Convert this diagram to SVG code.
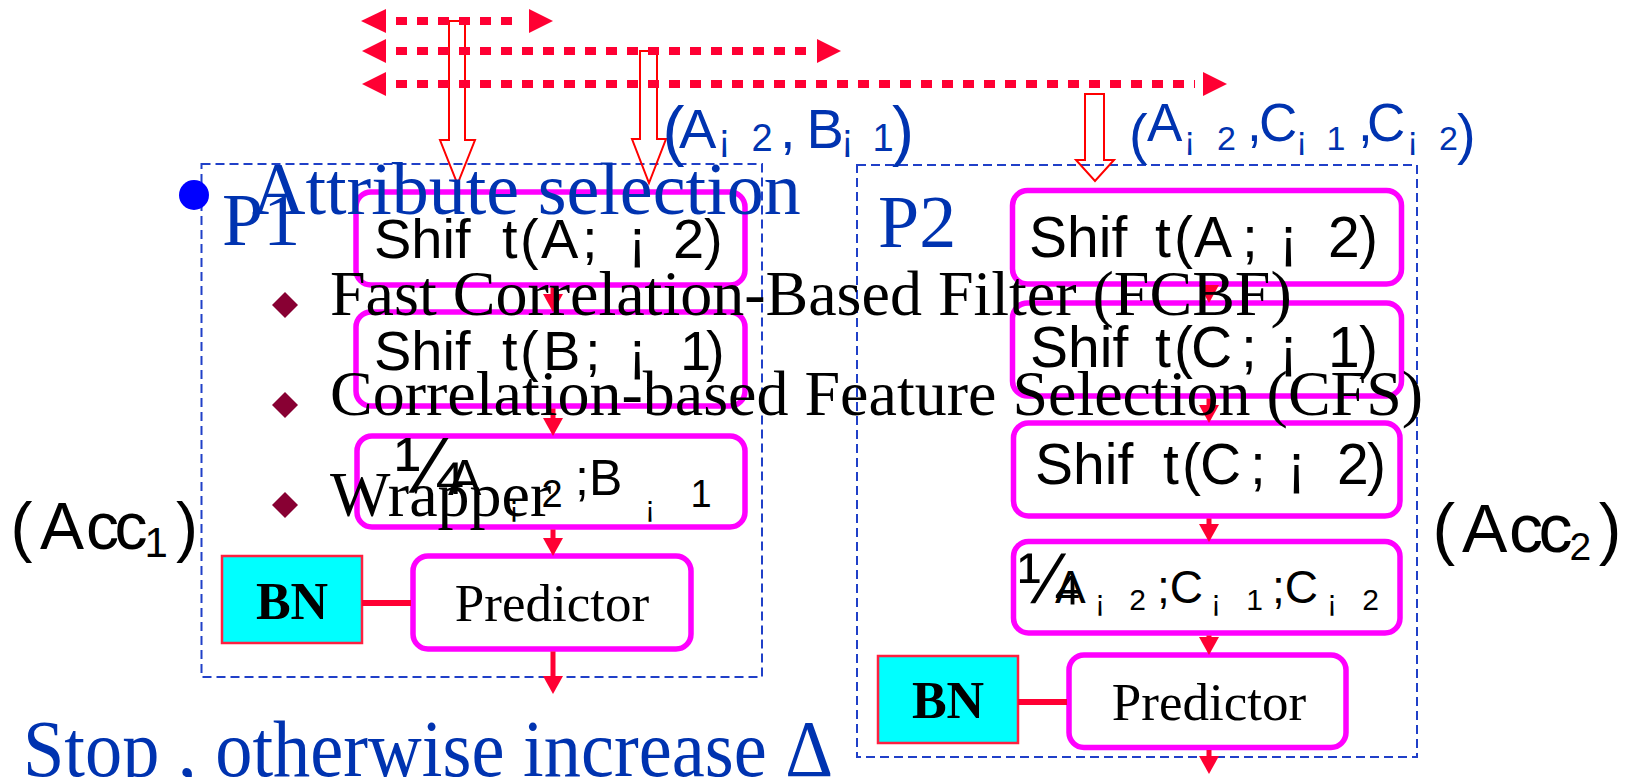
<svg xmlns="http://www.w3.org/2000/svg" width="1627" height="777" viewBox="0 0 1627 777">
<style>
.bg{fill:#fff}
.region{fill:none;stroke:#2040c8;stroke-width:2;stroke-dasharray:9 5}
.mag{fill:#fff;stroke:#ff00ff;stroke-width:5.5}
.bn{fill:#00ffff;stroke:#ff2040;stroke-width:2.5}
.ser{font-family:"Liberation Serif","Times New Roman",serif}
.sans{font-family:"Liberation Sans",Arial,sans-serif}
.blue{fill:#0033b0}
.blk{fill:#000}
.dot{fill:none;stroke:#ff0033;stroke-width:8;stroke-dasharray:11 10}
.head{fill:#ff0033}
.hollow{fill:none;stroke:#ff0000;stroke-width:2}
.flow{stroke:#ff0033;stroke-width:5;fill:none}
.link{stroke:#ff0033;stroke-width:6}
.diam{fill:#880033}
.shift{font-size:56px}
.shift2{font-size:57px}
</style>
<defs>
<marker id="ah" markerUnits="userSpaceOnUse" markerWidth="18" markerHeight="20" refX="8" refY="10" orient="auto">
<path d="M0,0 L18,10 L0,20 z" fill="#ff0033"/>
</marker>
</defs>
<rect class="bg" x="0" y="0" width="1627" height="777"/>

<g id="region-p1">
<rect class="region" x="201.5" y="164" width="560.5" height="513"/>
<text class="ser blue" x="222" y="245" font-size="74">P1</text>
</g>
<g id="region-p2">
<rect class="region" x="857" y="165" width="560" height="592"/>
<text class="ser blue" x="878" y="247" font-size="74">P2</text>
</g>

<g id="p1-shift-a">
<rect class="mag" x="356" y="192" width="389" height="93" rx="15"/>
<text class="sans blk shift" y="258" x="374 411.3 442.4 454.9 477 502 520 541 582 628 652 673 704">Shif t(A;¡ 2)</text>
</g>
<g id="p1-shift-b">
<rect class="mag" x="356" y="312" width="389" height="94" rx="15"/>
<text class="sans blk shift" y="370" x="374 411.3 442.4 454.9 477 502 520 543 585 628 655 680 706">Shif t(B;¡ 1)</text>
</g>
<g id="p1-tuple">
<rect class="mag" x="357" y="436" width="388" height="91" rx="15"/>
<text class="sans blk"><tspan x="395" y="493" font-size="80">¼</tspan><tspan x="448" y="495" font-size="50">A</tspan><tspan x="509" y="517" font-size="30">¡</tspan><tspan x="531" y="507" font-size="38"> 2</tspan><tspan x="575" y="495" font-size="50">;B</tspan><tspan x="645" y="517" font-size="30">¡</tspan><tspan x="680" y="507" font-size="38"> 1</tspan></text>
</g>
<g id="p1-predictor">
<rect class="mag" x="413" y="556" width="278" height="93" rx="15"/>
<text class="ser blk" x="552" y="621" font-size="53" text-anchor="middle">Predictor</text>
</g>
<g id="p1-bn">
<rect class="bn" x="222" y="556" width="140" height="87"/>
<text class="ser blk" x="292" y="619" font-size="52" font-weight="bold" text-anchor="middle">BN</text>
</g>

<g id="p2-shift-a">
<rect class="mag" x="1012.5" y="190.5" width="389" height="93.5" rx="15"/>
<text class="sans blk shift2" y="257" x="1029 1067 1098.7 1111.4 1133 1155 1174 1194 1242 1279 1305 1328 1359">Shif t(A;¡ 2)</text>
</g>
<g id="p2-shift-c1">
<rect class="mag" x="1012.5" y="303" width="389" height="93" rx="15"/>
<text class="sans blk shift2" y="367" x="1030 1068 1099.7 1112.4 1133 1155 1174 1191 1241 1279 1305 1328 1359">Shif t(C;¡ 1)</text>
</g>
<g id="p2-shift-c2">
<rect class="mag" x="1013.5" y="423" width="386.5" height="93" rx="15"/>
<text class="sans blk shift2" y="484" x="1035 1073 1104.7 1117.4 1140 1163 1182 1200 1250 1287 1312 1337 1367">Shif t(C;¡ 2)</text>
</g>
<g id="p2-tuple">
<rect class="mag" x="1013.5" y="541.5" width="386.5" height="91.5" rx="15"/>
<text class="sans blk"><tspan x="1018" y="603" font-size="72">¼</tspan><tspan x="1055" y="603" font-size="46">A</tspan><tspan x="1095" y="611" font-size="30">¡</tspan><tspan x="1121" y="610" font-size="30"> 2</tspan><tspan x="1157" y="603" font-size="46">;C</tspan><tspan x="1211" y="611" font-size="30">¡</tspan><tspan x="1238" y="610" font-size="30"> 1</tspan><tspan x="1272" y="603" font-size="46">;C</tspan><tspan x="1327" y="611" font-size="30">¡</tspan><tspan x="1354" y="610" font-size="30"> 2</tspan></text>
</g>
<g id="p2-predictor">
<rect class="mag" x="1069" y="655" width="277" height="92.5" rx="15"/>
<text class="ser blk" x="1209" y="720" font-size="53" text-anchor="middle">Predictor</text>
</g>
<g id="p2-bn">
<rect class="bn" x="878" y="656" width="140" height="87"/>
<text class="ser blk" x="948" y="718" font-size="52" font-weight="bold" text-anchor="middle">BN</text>
</g>

<g id="connectors">
<polygon class="hollow" points="449,21 465,21 465,140 475,140 457.5,184 440,140 449,140"/>
<polygon class="hollow" points="640,51 657,51 657,139 666,139 649,183 632,139 640,139"/>
<polygon class="hollow" points="1085,94 1104,94 1104,160 1114,160 1095,181 1076,160 1085,160"/>
<line class="dot" x1="396" y1="21" x2="521" y2="21"/>
<polygon class="head" points="361,21 386,9 386,33"/>
<polygon class="head" points="553,21 529,9 529,33"/>
<line class="dot" x1="396" y1="51" x2="808" y2="51"/>
<polygon class="head" points="362,51 386,39 386,63"/>
<polygon class="head" points="841,51 817,39 817,63"/>
<line class="dot" x1="396" y1="84" x2="1195" y2="84"/>
<polygon class="head" points="362,84 386,72 386,96"/>
<polygon class="head" points="1227,84 1203,72 1203,96"/>
<line class="flow" x1="553" y1="287.5" x2="553" y2="302" marker-end="url(#ah)"/>
<line class="flow" x1="553" y1="408.5" x2="553" y2="426" marker-end="url(#ah)"/>
<line class="flow" x1="553" y1="529.5" x2="553" y2="546" marker-end="url(#ah)"/>
<line class="flow" x1="553" y1="651.5" x2="553" y2="684" marker-end="url(#ah)"/>
<line class="flow" x1="1209" y1="286.5" x2="1209" y2="293" marker-end="url(#ah)"/>
<line class="flow" x1="1209" y1="398.5" x2="1209" y2="413" marker-end="url(#ah)"/>
<line class="flow" x1="1209" y1="518.5" x2="1209" y2="532" marker-end="url(#ah)"/>
<line class="flow" x1="1209" y1="635.5" x2="1209" y2="645" marker-end="url(#ah)"/>
<line class="flow" x1="1209" y1="750" x2="1209" y2="764" marker-end="url(#ah)"/>
<line class="link" x1="362" y1="603" x2="411" y2="603"/>
<line class="link" x1="1018" y1="702" x2="1067" y2="702"/>
</g>

<g id="label-p1-shifts">
<text class="sans blue"><tspan x="662.4" y="153" font-size="66">(</tspan><tspan x="679" y="148" font-size="56">A</tspan><tspan x="718" y="151" font-size="38">¡</tspan><tspan x="741" y="151" font-size="38"> 2</tspan><tspan x="780" y="148" font-size="56">,</tspan><tspan x="791" y="148" font-size="56"> B</tspan><tspan x="841" y="151" font-size="38">¡</tspan><tspan x="862" y="151" font-size="38"> 1</tspan><tspan x="892" y="153" font-size="66">)</tspan></text>
</g>
<g id="label-p2-shifts">
<text class="sans blue"><tspan x="1129" y="153" font-size="56">(</tspan><tspan x="1147" y="141" font-size="53">A</tspan><tspan x="1184" y="150" font-size="34">¡</tspan><tspan x="1207.5" y="150" font-size="34"> 2</tspan><tspan x="1247" y="141" font-size="53">,</tspan><tspan x="1259" y="141" font-size="53">C</tspan><tspan x="1296" y="150" font-size="34">¡</tspan><tspan x="1317" y="150" font-size="34"> 1</tspan><tspan x="1358" y="141" font-size="53">,</tspan><tspan x="1367" y="141" font-size="53">C</tspan><tspan x="1407" y="150" font-size="34">¡</tspan><tspan x="1429.5" y="150" font-size="34"> 2</tspan><tspan x="1457" y="153" font-size="56">)</tspan></text>
</g>
<g id="label-acc1">
<text class="sans blk" font-size="66"><tspan x="10.4" y="549">(</tspan><tspan x="40" y="549">A</tspan><tspan x="86" y="549">c</tspan><tspan x="114.5" y="549">c</tspan><tspan x="144.4" y="557" font-size="42">1</tspan><tspan x="176" y="549">)</tspan></text>
</g>
<g id="label-acc2">
<text class="sans blk" font-size="68"><tspan x="1432.4" y="552">(</tspan><tspan x="1462" y="552">A</tspan><tspan x="1509" y="552">c</tspan><tspan x="1538.4" y="552">c</tspan><tspan x="1569.5" y="560" font-size="39">2</tspan><tspan x="1598.7" y="552">)</tspan></text>
</g>

<g id="bullets">
<circle cx="194" cy="195" r="15" fill="#0000ff"/>
<text class="ser blue" x="252" y="214" font-size="74">Attribute selection</text>
<polygon class="diam" points="285,292 298,305 285,318 272,305"/>
<text class="ser blk" x="330" y="315" font-size="64">Fast Correlation-Based Filter (FCBF)</text>
<polygon class="diam" points="285,392 298,405 285,418 272,405"/>
<text class="ser blk" x="330" y="415" font-size="64">Correlation-based Feature Selection (CFS)</text>
<polygon class="diam" points="285,492 298,505 285,518 272,505"/>
<text class="ser blk" x="330" y="516" font-size="64">Wrapper</text>
<text class="ser blue" transform="scale(0.93,1)" x="24.7" y="776" font-size="80">Stop , otherwise increase Δ</text>
</g>
</svg>
